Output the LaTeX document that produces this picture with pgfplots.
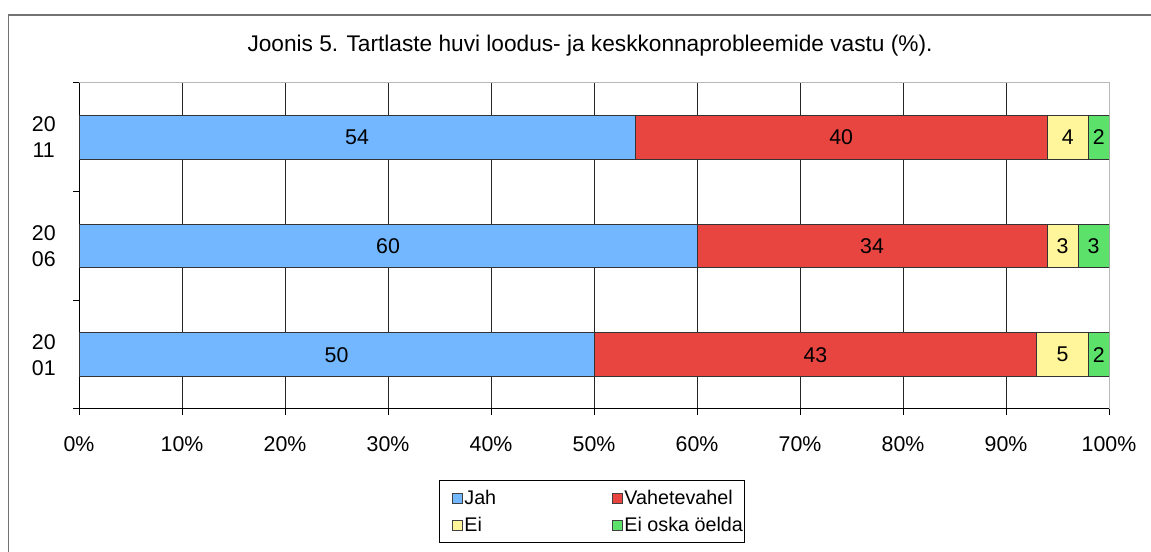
\documentclass[border=0pt]{standalone}
\usepackage{fontspec}
\setmainfont{Liberation Sans}
\usepackage{pgfplots}
\pgfplotsset{compat=1.18}
\usepackage{pgfplotstable}
\definecolor{cblue}{RGB}{114,183,255}
\definecolor{cred}{RGB}{232,69,65}
\definecolor{cyel}{RGB}{255,245,155}
\definecolor{cgreen}{RGB}{92,225,106}
\pgfplotstableread{
pos jah vahe ei eio
0 50 43 5 2
1 60 34 3 3
2 54 40 4 2
}\data
\newcommand\fs{\fontsize{16pt}{19pt}\selectfont}
\begin{document}
\begin{tikzpicture}
\useasboundingbox (0,0) rectangle (863.25pt,414pt);
\draw[black!55, line width=1.2pt] (6.375pt,0) -- (6.375pt,402.75pt) -- (863.25pt,402.75pt);
\node[font=\fontsize{17pt}{20pt}\selectfont, anchor=center] at (442.5pt,379.5pt) {Joonis 5. Tartlaste huvi loodus- ja keskkonnaprobleemide vastu (\%).};
\begin{axis}[
  at={(59.25pt,107.25pt)}, anchor=south west,
  width=772.5pt, height=244.5pt, scale only axis,
  xbar stacked, bar width=0.4,
  xmin=0, xmax=100, ymin=-0.5, ymax=2.5,
  enlargelimits=false,
  xtick={0,10,...,100},
  xticklabels={0\%,10\%,20\%,30\%,40\%,50\%,60\%,70\%,80\%,90\%,100\%},
  ytick={0,1,2},
  yticklabels={{20\\01},{20\\06},{20\\11}},
  minor ytick={-0.5,0.5,1.5,2.5},
  tick align=outside, tick pos=left,
  major tick length=4.5pt, minor tick length=4.5pt,
  tick style={black, line width=0.75pt},
  major y tick style={draw=none},
  xmajorgrids, major x grid style={black!85, line width=0.75pt},
  axis line style={gray!55, line width=0.75pt},
  x tick label style={font=\fs, yshift=-13pt},
  y tick label style={font=\fontsize{16pt}{19.5pt}\selectfont, align=center, xshift=-9.5pt},
  visualization depends on={rawx \as \segw},
  nodes near coords={\pgfmathprintnumber[assume math mode=true,fixed,precision=0]{\segw}},
  nodes near coords style={anchor=center, font=\fs, black},
  legend style={at={(0.3495,-0.218)}, anchor=north west, legend columns=2, draw=black, line width=0.75pt,
    font=\fontsize{14.8pt}{18pt}\selectfont, inner xsep=0.5pt, inner ysep=5pt, nodes={inner xsep=1pt, inner ysep=2pt},
    /tikz/every even column/.append style={column sep=77pt}, row sep=4pt},
  legend cell align=left,
  legend image code/.code={\path (0pt,0pt); \draw[#1, draw=black!75, line width=0.6pt] (9pt,-3.75pt) rectangle (16.5pt,3.75pt);},
]
\addplot[fill=cblue, draw=black!80, line width=0.75pt] table[x=jah,y=pos]{\data};
\addplot[fill=cred, draw=black!80, line width=0.75pt] table[x=vahe,y=pos]{\data};
\addplot[fill=cyel, draw=black!80, line width=0.75pt] table[x=ei,y=pos]{\data};
\addplot[fill=cgreen, draw=black!80, line width=0.75pt] table[x=eio,y=pos]{\data};
\legend{Jah,Vahetevahel,Ei,Ei oska öelda}
\draw[black, line width=0.75pt] (rel axis cs:0,1) -- (rel axis cs:0,0) -- (rel axis cs:1,0);
\end{axis}
\end{tikzpicture}
\end{document}
